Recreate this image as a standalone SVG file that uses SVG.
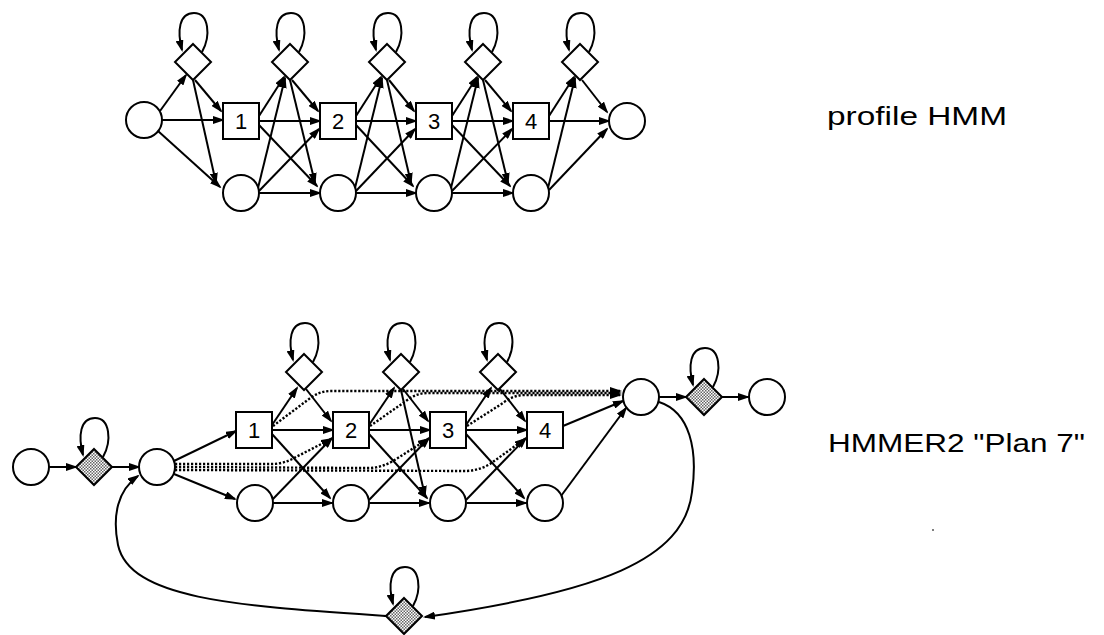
<svg xmlns="http://www.w3.org/2000/svg" width="1104" height="635" viewBox="0 0 1104 635">
  <style>
    .st { fill: #fff; stroke: #000; stroke-width: 2; }
    .sh { fill: url(#stipple); stroke: #000; stroke-width: 2; }
    .e { fill: none; stroke: #000; stroke-width: 2; marker-end: url(#ah); }
    .loop { fill: none; stroke: #000; stroke-width: 2; marker-end: url(#ah); }
    .dot { fill: none; stroke: #000; stroke-width: 2.4; stroke-dasharray: 2.2 1.8; marker-end: url(#ah); }
    .num { font-family: "Liberation Sans", Arial, sans-serif; font-size: 22px; text-anchor: middle; fill: #000; }
    .lab { font-family: "Liberation Sans", Arial, sans-serif; font-size: 26px; fill: #000; }
  </style>
  <defs>
    <marker id="ah" viewBox="0 0 12 8" refX="10" refY="4" markerWidth="12" markerHeight="8" markerUnits="userSpaceOnUse" orient="auto">
      <path d="M0,0 L12,4 L0,8 z" fill="#000"/>
    </marker>
    <pattern id="stipple" width="3" height="3" patternUnits="userSpaceOnUse">
      <rect width="3" height="3" fill="#fff"/>
      <rect width="1.5" height="1.5" fill="#666"/>
      <rect x="1.5" y="1.5" width="1.5" height="1.5" fill="#666"/>
    </pattern>
  </defs>

  <!-- ===== profile HMM ===== -->
  <g id="edges-profile">
    <!-- begin state -->
    <path class="e" d="M160,111 L186,75"/>
    <path class="e" d="M162,120 L223,120"/>
    <path class="e" d="M158,131 L220,187"/>
    <!-- insert 0 -->
    <path class="e" d="M195,80 L221,111"/>
    <path class="e" d="M193,80 L216,183"/>
    <!-- column 1 -->
    <path class="e" d="M259,116 L284,77"/>
    <path class="e" d="M259,121 L320,121"/>
    <path class="e" d="M259,125 L317,186"/>
    <path class="e" d="M258,188 L285,78"/>
    <path class="e" d="M259,191 L319,129"/>
    <path class="e" d="M259,193 L320,193"/>
    <path class="e" d="M292,80 L318,111"/>
    <path class="e" d="M290,80 L315,183"/>
    <!-- column 2 -->
    <path class="e" d="M356,116 L381,77"/>
    <path class="e" d="M356,121 L416,121"/>
    <path class="e" d="M356,125 L413,186"/>
    <path class="e" d="M355,188 L382,78"/>
    <path class="e" d="M356,191 L415,129"/>
    <path class="e" d="M356,193 L416,193"/>
    <path class="e" d="M389,80 L414,111"/>
    <path class="e" d="M387,80 L411,183"/>
    <!-- column 3 -->
    <path class="e" d="M452,116 L477,77"/>
    <path class="e" d="M452,121 L513,121"/>
    <path class="e" d="M452,125 L510,186"/>
    <path class="e" d="M451,188 L478,78"/>
    <path class="e" d="M452,191 L512,129"/>
    <path class="e" d="M452,193 L513,193"/>
    <path class="e" d="M485,80 L511,111"/>
    <path class="e" d="M483,80 L508,183"/>
    <!-- column 4 -->
    <path class="e" d="M549,116 L574,77"/>
    <path class="e" d="M549,121 L609,121"/>
    <path class="e" d="M548,188 L575,78"/>
    <path class="e" d="M549,190 L607,129"/>
    <path class="e" d="M582,80 L607,112"/>
    <!-- insert self-loops -->
    <path class="loop" d="M202,52 C211,36 209,13 194,13 C179,13 177,31 182,50"/>
    <path class="loop" d="M299,52 C308,36 306,13 291,13 C276,13 274,31 279,50"/>
    <path class="loop" d="M396,52 C405,36 403,13 388,13 C373,13 371,31 376,50"/>
    <path class="loop" d="M492,52 C501,36 499,13 484,13 C469,13 467,31 472,50"/>
    <path class="loop" d="M589,52 C598,36 596,13 581,13 C566,13 564,31 569,50"/>
  </g>

  <g id="p-begin"><circle class="st" cx="144" cy="120" r="18"/></g>
  <g id="p-ins0"><polygon class="st" points="193,44 211,62 193,80 175,62"/></g>
  <g id="p-ins1"><polygon class="st" points="290,44 308,62 290,80 272,62"/></g>
  <g id="p-ins2"><polygon class="st" points="387,44 405,62 387,80 369,62"/></g>
  <g id="p-ins3"><polygon class="st" points="483,44 501,62 483,80 465,62"/></g>
  <g id="p-ins4"><polygon class="st" points="580,44 598,62 580,80 562,62"/></g>
  <g id="p-m1"><rect class="st" x="223" y="103" width="36" height="36"/><text class="num" x="241" y="129">1</text></g>
  <g id="p-m2"><rect class="st" x="320" y="103" width="36" height="36"/><text class="num" x="338" y="129">2</text></g>
  <g id="p-m3"><rect class="st" x="416" y="103" width="36" height="36"/><text class="num" x="434" y="129">3</text></g>
  <g id="p-m4"><rect class="st" x="513" y="103" width="36" height="36"/><text class="num" x="531" y="129">4</text></g>
  <g id="p-d1"><circle class="st" cx="241" cy="193" r="18"/></g>
  <g id="p-d2"><circle class="st" cx="338" cy="193" r="18"/></g>
  <g id="p-d3"><circle class="st" cx="434" cy="193" r="18"/></g>
  <g id="p-d4"><circle class="st" cx="531" cy="193" r="18"/></g>
  <g id="p-end"><circle class="st" cx="627" cy="121" r="18"/></g>

  <g id="label-profile"><text class="lab" x="827" y="125" textLength="180" lengthAdjust="spacingAndGlyphs">profile HMM</text></g>

  <!-- ===== HMMER2 Plan 7 ===== -->
  <g id="edges-plan7">
    <!-- entry paths from B (dotted) -->
    <path class="dot" d="M175,464 L272,464 Q284,464 296,457 L331,439"/>
    <path class="dot" d="M175,467 L368,468 Q381,468 393,461 L428,439"/>
    <path class="dot" d="M175,470 L465,471 Q478,471 490,464 L525,439"/>
    <!-- exit paths to E (dotted) -->
    <path class="dot" d="M273,426 L309,399 Q319,391 331,391 L620,391"/>
    <path class="dot" d="M370,426 L406,401 Q416,393 428,393 L620,393"/>
    <path class="dot" d="M467,426 L503,403 Q513,395 525,395 L620,395"/>

    <path class="e" d="M49,467 L76,467"/>
    <path class="e" d="M112,467 L139,467"/>
    <path class="e" d="M174,461 L236,431"/>
    <path class="e" d="M174,474 L235,499"/>
    <!-- column 1 -->
    <path class="e" d="M272,425 L297,388"/>
    <path class="e" d="M272,430 L333,430"/>
    <path class="e" d="M272,434 L330,498"/>
    <path class="e" d="M272,500 L332,438"/>
    <path class="e" d="M273,503 L332,503"/>
    <path class="e" d="M306,389 L331,421"/>
    <!-- column 2 -->
    <path class="e" d="M369,425 L394,388"/>
    <path class="e" d="M369,430 L430,430"/>
    <path class="e" d="M369,434 L427,498"/>
    <path class="e" d="M369,500 L429,438"/>
    <path class="e" d="M370,503 L429,503"/>
    <path class="e" d="M403,389 L428,421"/>
    <path class="e" d="M401,390 L425,496"/>
    <!-- column 3 -->
    <path class="e" d="M466,425 L491,388"/>
    <path class="e" d="M466,430 L527,430"/>
    <path class="e" d="M466,434 L524,498"/>
    <path class="e" d="M466,500 L526,438"/>
    <path class="e" d="M467,503 L526,503"/>
    <path class="e" d="M500,389 L525,421"/>
    <!-- column 4 to E -->
    <path class="e" d="M563,426 L623,401"/>
    <path class="e" d="M561,496 L626,408"/>
    <!-- E, C, T -->
    <path class="e" d="M659,397 L686,397"/>
    <path class="e" d="M722,397 L748,397"/>
    <!-- E to J and J back to B -->
    <path class="e" d="M659,402 C690,412 698,450 692,492 C684,560 600,592 425,617"/>
    <path class="e" d="M387,616 C240,606 130,600 118,545 C112,515 118,490 138,476"/>
    <!-- self-loops -->
    <path class="loop" d="M103,457 C112,441 110,418 95,418 C80,418 78,436 83,455"/>
    <path class="loop" d="M313,362 C322,346 320,323 305,323 C290,323 288,341 293,360"/>
    <path class="loop" d="M410,362 C419,346 417,323 402,323 C387,323 385,341 390,360"/>
    <path class="loop" d="M507,362 C516,346 514,323 499,323 C484,323 482,341 487,360"/>
    <path class="loop" d="M713,387 C722,371 720,348 705,348 C690,348 688,366 693,385"/>
    <path class="loop" d="M413,606 C422,590 420,567 405,567 C390,567 388,585 393,604"/>
  </g>

  <g id="s-state"><circle class="st" cx="31" cy="467" r="18"/></g>
  <g id="n-state"><polygon class="sh" points="94,449 112,467 94,485 76,467"/></g>
  <g id="b-state"><circle class="st" cx="157" cy="467" r="18"/></g>
  <g id="i1"><polygon class="st" points="304,354 322,372 304,390 286,372"/></g>
  <g id="i2"><polygon class="st" points="401,354 419,372 401,390 383,372"/></g>
  <g id="i3"><polygon class="st" points="498,354 516,372 498,390 480,372"/></g>
  <g id="m1"><rect class="st" x="236" y="412" width="36" height="36"/><text class="num" x="254" y="438">1</text></g>
  <g id="m2"><rect class="st" x="333" y="412" width="36" height="36"/><text class="num" x="351" y="438">2</text></g>
  <g id="m3"><rect class="st" x="430" y="412" width="36" height="36"/><text class="num" x="448" y="438">3</text></g>
  <g id="m4"><rect class="st" x="527" y="412" width="36" height="36"/><text class="num" x="545" y="438">4</text></g>
  <g id="d1"><circle class="st" cx="255" cy="503" r="18"/></g>
  <g id="d2"><circle class="st" cx="351" cy="503" r="18"/></g>
  <g id="d3"><circle class="st" cx="448" cy="503" r="18"/></g>
  <g id="d4"><circle class="st" cx="545" cy="503" r="18"/></g>
  <g id="e-state"><circle class="st" cx="641" cy="397" r="18"/></g>
  <g id="c-state"><polygon class="sh" points="704,379 722,397 704,415 686,397"/></g>
  <g id="t-state"><circle class="st" cx="767" cy="397" r="18"/></g>
  <g id="j-state"><polygon class="sh" points="404,598 422,616 404,634 386,616"/></g>

  <g id="label-plan7"><text class="lab" x="828" y="452" textLength="257" lengthAdjust="spacingAndGlyphs">HMMER2 "Plan 7"</text></g>
  <circle cx="933" cy="530" r="1" fill="#555"/>
</svg>
